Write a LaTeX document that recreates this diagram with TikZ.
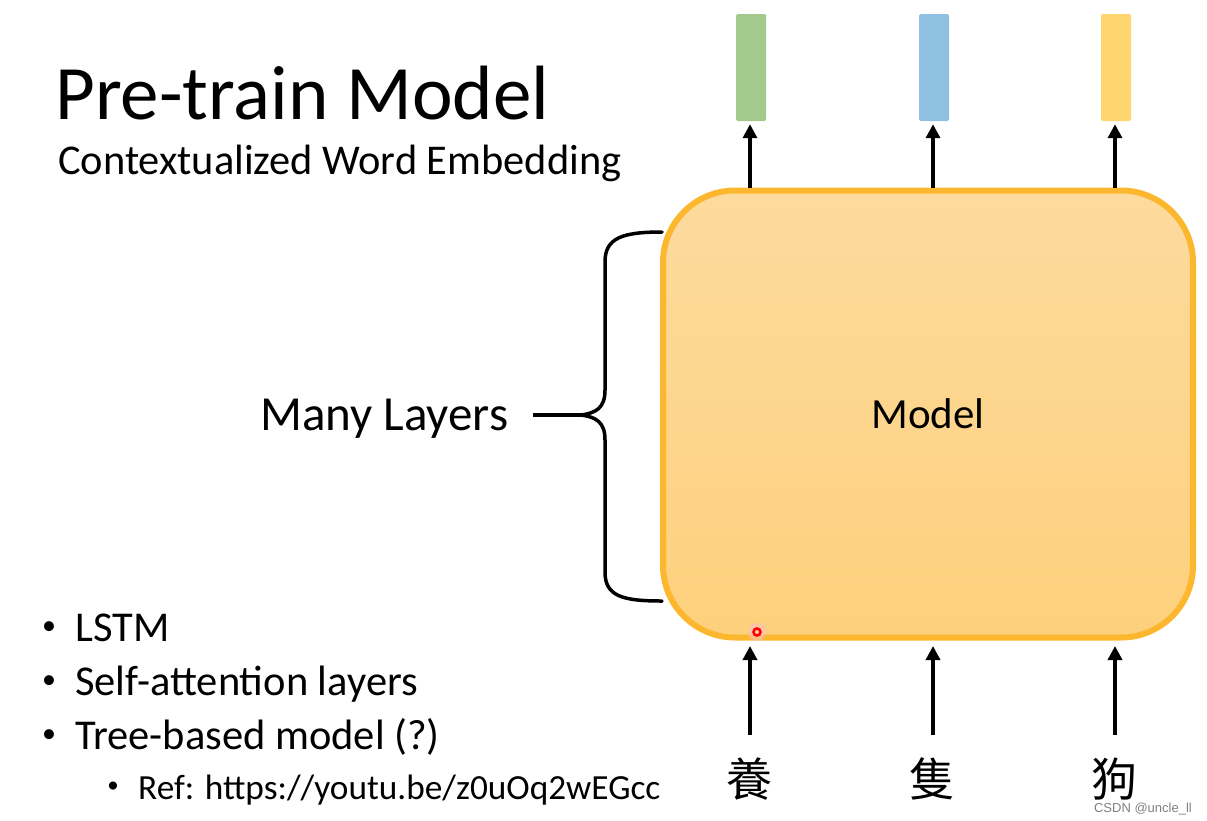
\documentclass[tikz,border=0pt]{standalone}
\usepackage{fontspec}
\setmainfont{Carlito}
\newfontfamily\cjkfont{Noto Sans CJK TC}
\newfontfamily\wmfont{Liberation Sans}
\usetikzlibrary{arrows.meta}
\definecolor{boxTop}{HTML}{FDDB9E}
\definecolor{boxBottom}{HTML}{FDD07C}
\definecolor{boxLine}{HTML}{FCB72F}
\definecolor{barGreen}{HTML}{A3C98C}
\definecolor{barBlue}{HTML}{91C1E2}
\definecolor{barYellow}{HTML}{FED56E}

\begin{document}
\begin{tikzpicture}
[x=1pt,y=-1pt,
  arrowDecorate/.style={-{Triangle[length=14pt,width=14pt]},line width=3.5pt},%
  barDecorate/.style={shape=rectangle,minimum width=30pt,minimum height=107pt,inner sep=0pt,rounded corners=1.5pt},%
  boxDecorate/.style={shape=rectangle,draw=boxLine,line width=6pt,rounded corners=72pt,
    top color=boxTop,bottom color=boxBottom,minimum width=530pt,minimum height=447pt},%
  braceDecorate/.style={line width=3.5pt,line cap=round}]
\useasboundingbox (0,0) rectangle (1207,820);
%% titles
\node (title) [anchor=base west,inner sep=0pt] at (55,119) {\fontsize{77}{77}\selectfont Pre-train Model};
\node (subtitle) [anchor=base west,inner sep=0pt] at (58,174) {\fontsize{42.4}{42}\selectfont Contextualized Word Embedding};
%% the model box
\node (model) [boxDecorate] at (928,414) {\fontsize{43}{43}\selectfont Model};
%% output vectors and input words
\foreach \name/\x/\col/\word in {
  1/751/barGreen/養, 2/934/barBlue/隻, 3/1116/barYellow/狗}
{
  \node (b\name) [barDecorate,fill=\col] at (\x,67.5) {};
  \node (w\name) [inner sep=0pt] at (\x-2,779) {\cjkfont\fontsize{46}{46}\selectfont \word};
  \draw[arrowDecorate,shorten >=3pt] (model.north -| b\name.south) ++(-1,0) -- (b\name.south -| {\x-1,0});
  \draw[arrowDecorate] (\x-1,735) -- (\x-1,646);
}
%% many layers brace
\node (layers) [anchor=base west,inner sep=0pt] at (260,430) {\fontsize{49}{49}\selectfont Many Layers};
\coordinate (tip) at (581,415);
\draw[braceDecorate] (662,232) .. controls (622,232) and (605,238) .. (605,262) -- (605,390)
  .. controls (605,408) and (596,413) .. (tip)
  .. controls (596,417) and (605,422) .. (605,440) -- (605,572)
  .. controls (605,596) and (622,601) .. (662,601);
\draw[braceDecorate,line cap=butt] ([xshift=25pt]layers.east |- tip) -- (tip);
%% bullet list
\foreach \bx/\tx/\y/\size/\dot/\item in {
  49/75/641/42.5/28/LSTM, 49/75/695/42.5/28/Self-attention layers,
  49/75/749/42.5/28/Tree-based model (?), 113/138/799/35.3/23/{Ref: https://youtu.be/z0uOq2wEGcc}}
{
  \node [anchor=base,inner sep=0pt] at (\bx,\y-7) {\fontsize{\dot}{\dot}\selectfont\textbullet};
  \node [anchor=base west,inner sep=0pt] at (\tx,\y) {\fontsize{\size}{\size}\selectfont \item};
}
%% pointer and watermark
\fill[red!25,opacity=0.6] (757,632) circle (9pt);
\node (pointer) [circle,draw=red,line width=2.5pt,inner sep=2.5pt] at (757,632) {};
\node (mark) [anchor=base east,inner sep=0pt,text=gray] at (1192,812) {\wmfont\fontsize{13}{13}\selectfont CSDN @uncle\_ll};
\end{tikzpicture}
\end{document}
